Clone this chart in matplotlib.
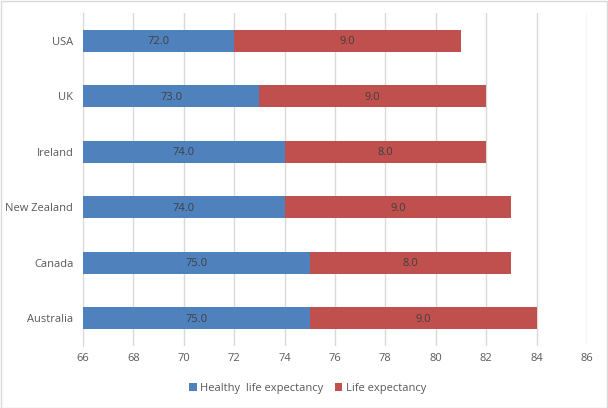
import numpy as np
import matplotlib.pyplot as plt
from matplotlib.patches import Rectangle

plt.rcParams['font.family'] = ['Open Sans', 'DejaVu Sans']

countries = ['USA', 'UK', 'Ireland', 'New Zealand', 'Canada', 'Australia']
healthy = [72.0, 73.0, 74.0, 74.0, 75.0, 75.0]
extra = [9.0, 9.0, 8.0, 9.0, 8.0, 9.0]
xmin, xmax = 66, 86

blue = '#4F81BD'
red = '#C0504D'
txt = '#595959'

fig = plt.figure(figsize=(6.08, 4.08), dpi=100)
ax = fig.add_axes([0.1365, 0.152, 0.829, 0.816])

y = np.arange(len(countries))
h = 0.4
left = [xmin] * len(countries)
w1 = [v - xmin for v in healthy]
b1 = ax.barh(y, w1, left=left, height=h, color=blue, label='Healthy  life expectancy', zorder=3)
b2 = ax.barh(y, extra, left=healthy, height=h, color=red, label='Life expectancy', zorder=3)

for i in range(len(countries)):
    ax.text(xmin + w1[i] / 2, y[i] + 0.02, '%.1f' % healthy[i], ha='center', va='center',
            fontsize=8, color='#404040', zorder=4)
    ax.text(healthy[i] + extra[i] / 2, y[i] + 0.02, '%.1f' % extra[i], ha='center', va='center',
            fontsize=8, color='#404040', zorder=4)

ax.set_xlim(xmin, xmax)
ax.set_ylim(len(countries) - 0.5, -0.5)
ax.set_xticks(np.arange(xmin, xmax + 1, 2))
ax.set_yticks(y)
ax.set_yticklabels(countries)
ax.tick_params(length=0, labelsize=8, colors=txt, pad=7)
ax.tick_params(axis='x', pad=5)
ax.grid(axis='x', color='#D9D9D9', linewidth=1, zorder=0)
for s in ['top', 'right', 'bottom']:
    ax.spines[s].set_visible(False)
ax.spines['left'].set_color('#D9D9D9')

leg = fig.legend(handles=[b1, b2], loc='center', bbox_to_anchor=(0.506, 0.049), ncol=2,
                 frameon=False, fontsize=8, handlelength=0.7, handleheight=0.7,
                 columnspacing=1.0, handletextpad=0.3)
for t in leg.get_texts():
    t.set_color(txt)

fig.patches.append(Rectangle((0.001, 0.001), 0.997, 0.997, transform=fig.transFigure,
                             fill=False, edgecolor='#D9D9D9', linewidth=1))

fig.savefig('out.png', dpi=100)
